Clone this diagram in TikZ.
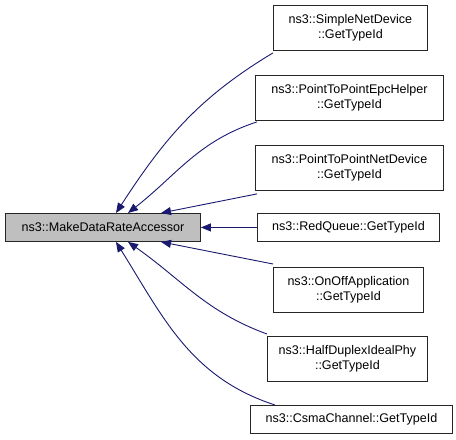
\documentclass[tikz,border=0pt]{standalone}
\usepackage{fontspec}
\setmainfont{Liberation Sans}
\usetikzlibrary{arrows.meta}
\definecolor{edgeblue}{HTML}{191970}
\definecolor{mainfill}{HTML}{BFBFBF}
\begin{document}
\begin{tikzpicture}[x=1bp,y=-1bp,
  box/.style={draw=black!85, line width=0.9bp, fill=white, inner sep=0pt, align=center,
    font=\fontsize{12.6}{15}\selectfont, anchor=north west},
  edge/.style={draw=edgeblue, line width=0.9bp, {Triangle[length=10bp,width=8bp]}-}]
\useasboundingbox (0,0) rectangle (456,440);
\node[box, fill=mainfill, minimum width=195bp, minimum height=28bp] (m) at (5,213) {ns3::MakeDataRateAccessor};
\node[box, minimum width=154bp, minimum height=45bp] (a) at (273,5) {ns3::SimpleNetDevice\\::GetTypeId};
\node[box, minimum width=188bp, minimum height=45bp] (b) at (255,75) {ns3::PointToPointEpcHelper\\::GetTypeId};
\node[box, minimum width=188bp, minimum height=45bp] (c) at (255,145) {ns3::PointToPointNetDevice\\::GetTypeId};
\node[box, minimum width=182bp, minimum height=28bp] (d) at (257,213) {ns3::RedQueue::GetTypeId};
\node[box, minimum width=150bp, minimum height=45bp] (e) at (273,267) {ns3::OnOffApplication\\::GetTypeId};
\node[box, minimum width=160bp, minimum height=45bp] (f) at (267,336) {ns3::HalfDuplexIdealPhy\\::GetTypeId};
\node[box, minimum width=202bp, minimum height=28bp] (g) at (250,405) {ns3::CsmaChannel::GetTypeId};
\draw[edge] ([xshift=111bp]m.north west) to[out=57,in=211] ([yshift=-2bp]a.south west);
\draw[edge] ([xshift=123bp]m.north west) to[out=38,in=198] ([xshift=2bp,yshift=-1bp]b.south west);
\draw[edge] ([xshift=156bp]m.north west) -- ([xshift=2bp,yshift=-3bp]c.south west);
\draw[edge] (m.east) -- (d.west);
\draw[edge] ([xshift=156bp]m.south west) -- ([yshift=3bp]e.north west);
\draw[edge] ([xshift=123bp]m.south west) to[out=-35,in=160] ([yshift=2bp]f.north west);
\draw[edge] ([xshift=111bp]m.south west) to[out=-58,in=162] ([xshift=25bp]g.north west);
\end{tikzpicture}
\end{document}
